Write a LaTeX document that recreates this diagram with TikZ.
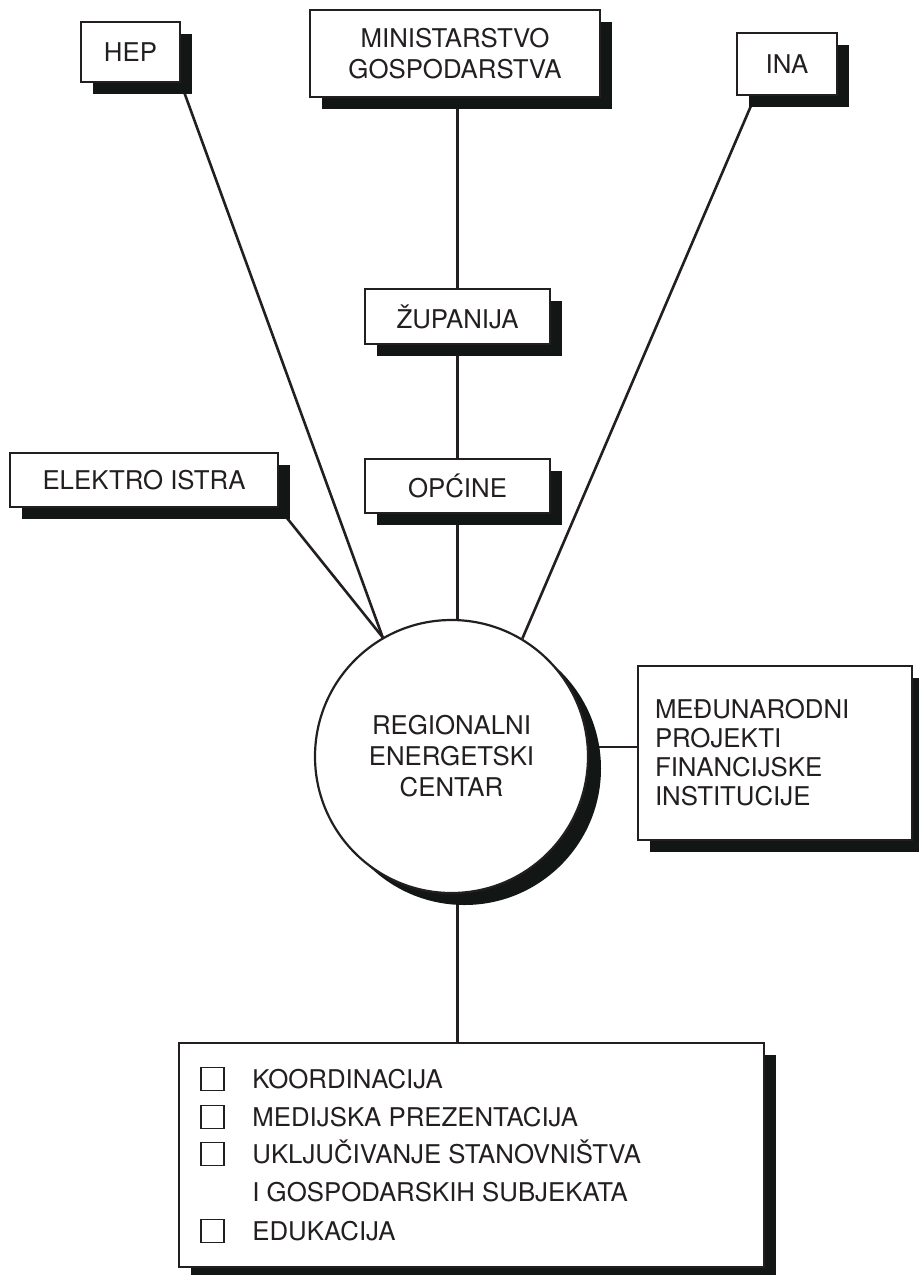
\documentclass[tikz,border=0pt]{standalone}
\usepackage{fontspec}
\setmainfont{TeX Gyre Heros}
\usetikzlibrary{shadows,backgrounds}
\definecolor{ink}{HTML}{231F20}
\definecolor{shade}{HTML}{121716}
\begin{document}
\begin{tikzpicture}[x=0.5pt,y=-0.5pt,
  every node/.style={font=\fontsize{12.9}{15.5}\selectfont, text=ink},
  pbox/.style={draw=ink, line width=0.7pt, fill=white, rectangle, inner sep=0pt,
    align=center,
    drop shadow={shadow xshift=6pt, shadow yshift=-6pt, fill=shade, opacity=1}},
  rcirc/.style={draw=ink, line width=1.1pt, fill=white, circle, inner sep=0pt,
    minimum size=136.5pt, align=center,
    drop shadow={shadow xshift=6.5pt, shadow yshift=-6pt, fill=shade, opacity=1}},
  link/.style={draw=ink, line width=1.3pt},
  chk/.style={draw=ink, line width=0.7pt, rectangle, inner sep=0pt, minimum size=11.5pt},
  item/.style={anchor=base west, inner sep=0pt}]
\useasboundingbox (0,0) rectangle (918,1275);

% boxes
\node[pbox, minimum width=49.5pt, minimum height=30pt] (hep) at (130.5,52) {HEP};
\node[pbox, minimum width=145pt, minimum height=43.5pt] (min) at (455,53.5) {MINISTARSTVO\\GOSPODARSTVA};
\node[pbox, minimum width=50pt, minimum height=31pt] (ina) at (787,64) {INA};
\node[pbox, minimum width=134pt, minimum height=27pt] (elek) at (144,480) {ELEKTRO ISTRA};
\node[pbox, minimum width=92.5pt, minimum height=27.5pt] (zup) at (457.5,316.5) {ŽUPANIJA};
\node[pbox, minimum width=92.5pt, minimum height=27pt] (opc) at (457.5,486) {OPĆINE};
\node[pbox, minimum height=87pt, text width=120pt, inner xsep=8.5pt, align=left,
  font=\fontsize{12.9}{14.5}\selectfont] (med) at (775,753)
  {MEĐUNARODNI\\PROJEKTI\\FINANCIJSKE\\INSTITUCIJE};
\node[rcirc] (rec) at (451.5,756.5) {REGIONALNI\\ENERGETSKI\\CENTAR};
\node[pbox, minimum width=292.5pt, minimum height=112pt] (bot) at (471.5,1155) {};

% list inside bottom box
\node[chk] (c1) at (212.5,1079) {};
\node[chk] (c2) at (212.5,1117) {};
\node[chk] (c3) at (212.5,1154) {};
\node[chk] (c4) at (212.5,1231) {};
\node[item] (t1) at (252,1088.5) {KOORDINACIJA};
\node[item] (t2) at (252,1126.5) {MEDIJSKA PREZENTACIJA};
\node[item] (t3) at (252,1163.5) {UKLJUČIVANJE STANOVNIŠTVA};
\node[item] (t3b) at (252,1201.5) {I GOSPODARSKIH SUBJEKATA};
\node[item] (t4) at (252,1240.5) {EDUKACIJA};

% connectors
\begin{scope}[on background layer]
\draw[link] (min.south -| zup.north) -- (zup.north);
\draw[link] (zup.south) -- (opc.north);
\draw[link] (opc.south) -- (opc.south |- rec.north);
\draw[link] (opc.south |- rec.south) -- (opc.south |- bot.north);
\draw[link] (hep.south east) -- (rec.120);
\draw[link] (elek.south east) -- (rec.120);
\draw[link] ([xshift=9.5pt]ina.south west) -- (rec.59);
\draw[link] (rec.4) -- (rec.4 -| med.west);
\end{scope}
\end{tikzpicture}
\end{document}
